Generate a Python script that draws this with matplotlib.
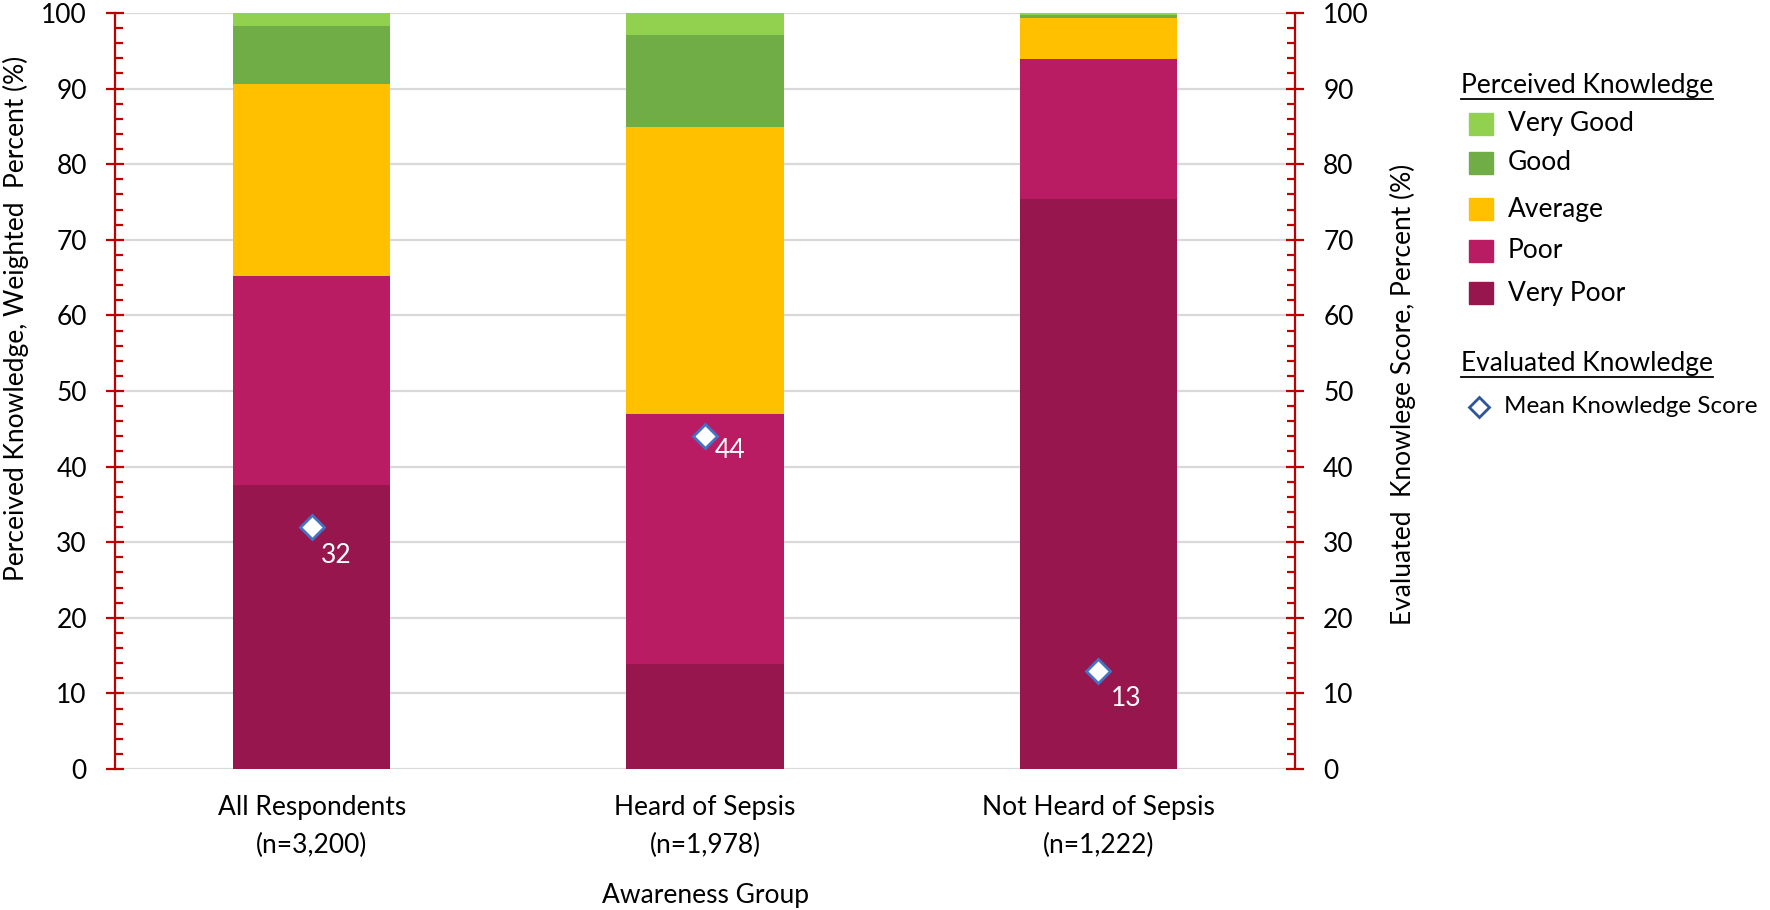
import matplotlib
matplotlib.use("Agg")
import matplotlib.pyplot as plt
from matplotlib.patches import Rectangle
from matplotlib.lines import Line2D
from matplotlib.ticker import MultipleLocator
import numpy as np

plt.rcParams['font.family'] = ['Lato', 'DejaVu Sans']

# ---------------- data ----------------
categories = ["All Respondents\n(n=3,200)", "Heard of Sepsis\n(n=1,978)",
              "Not Heard of Sepsis\n(n=1,222)"]
levels = ["Very Poor", "Poor", "Average", "Good", "Very Good"]
very_poor = [37.6, 13.9, 75.4]
poor = [27.6, 33.1, 18.5]
average = [25.4, 37.9, 5.5]
good = [7.7, 12.2, 0.4]
very_good = [1.7, 2.9, 0.2]
mean_score = [32, 44, 13]
series_name = "Mean Knowledge Score"
yticks = [0, 10, 20, 30, 40, 50, 60, 70, 80, 90, 100]

colors = {"Very Poor": "#96164D", "Poor": "#BA1C63", "Average": "#FFC000",
          "Good": "#70AD47", "Very Good": "#92D050"}
RED = "#C00000"
FS = 19

W, H = 1770, 910
fig = plt.figure(figsize=(W / 100, H / 100), dpi=100)
L, R, T, B = 115, 1295, 13, 769
ax = fig.add_axes([L / W, 1 - B / H, (R - L) / W, (B - T) / H])

x = np.arange(len(categories))
stack = [very_poor, poor, average, good, very_good]
bottom = np.zeros(len(categories))
for name, vals in zip(levels, stack):
    ax.bar(x, vals, bottom=bottom, width=0.40, color=colors[name], zorder=2,
           edgecolor='none')
    bottom = bottom + np.array(vals)

ax.set_xlim(-0.5, len(categories) - 0.5)
ax.set_ylim(0, 100)
ax.set_yticks(yticks)
ax.yaxis.set_minor_locator(MultipleLocator(2))
ax.set_xticks(x)
ax.set_xticklabels(categories, fontsize=FS, linespacing=1.62)
ax.tick_params(axis='x', length=0, pad=19)
ax.grid(axis='y', color='#D9D9D9', lw=1.6, zorder=0)
ax.set_axisbelow(True)
for s in ['top', 'bottom']:
    ax.spines[s].set_visible(False)
ax.spines['right'].set_visible(False)
ax.spines['left'].set_color(RED)
ax.spines['left'].set_linewidth(1.6)
ax.tick_params(axis='y', which='major', direction='inout', length=12.5,
               width=1.6, color=RED, labelsize=FS, pad=14)
ax.tick_params(axis='y', which='minor', direction='in', length=6,
               width=1.6, color=RED)

ax.set_xlabel("Awareness Group", fontsize=FS)
ax.xaxis.set_label_coords(0.5, (B - 895) / (B - T))
ax.xaxis.label.set_va('center')
ax.set_ylabel("Perceived Knowledge, Weighted  Percent (%)", fontsize=FS)
ax.yaxis.set_label_coords((16 - L) / (R - L), (B - 318) / (B - T))
ax.yaxis.label.set_va('center')

ax2 = ax.twinx()
ax2.set_ylim(0, 100)
ax2.set_yticks(yticks)
ax2.yaxis.set_minor_locator(MultipleLocator(2))
for s in ['top', 'bottom', 'left']:
    ax2.spines[s].set_visible(False)
ax2.spines['right'].set_color(RED)
ax2.spines['right'].set_linewidth(1.6)
ax2.tick_params(axis='y', which='major', direction='inout', length=12.5,
                width=1.6, color=RED, labelsize=FS, pad=14)
ax2.tick_params(axis='y', which='minor', direction='in', length=6,
                width=1.6, color=RED)
ax2.set_ylabel("Evaluated  Knowlege Score, Percent (%)", fontsize=FS)
ax2.yaxis.set_label_coords((1403 - L) / (R - L), (B - 394) / (B - T))
ax2.yaxis.label.set_va('center')

ax2.plot(x, mean_score, linestyle='none', marker='D', ms=12,
         mfc='white', mec='#4472C4', mew=2, zorder=5)
offsets = [(25, -28), (25, -14), (28, -28)]
for xi, v, off in zip(x, mean_score, offsets):
    ax2.annotate(f"{v:g}", (xi, v), xytext=off, textcoords='offset pixels',
                 color='white', fontsize=FS, ha='center', va='center', zorder=6)

# ---------------- legend (manual) ----------------
def fx(px):
    return px / W

def fy(py):
    return 1 - py / H

renderer = fig.canvas.get_renderer()

def underlined_title(txt, px, py, uy):
    t = fig.text(fx(px), fy(py), txt, fontsize=FS, ha='left', va='center')
    bb = t.get_window_extent(renderer=renderer)
    fig.add_artist(Line2D([bb.x0 / W, bb.x1 / W], [fy(uy), fy(uy)],
                          transform=fig.transFigure, color='black', lw=1.3))

underlined_title("Perceived Knowledge", 1461, 85, 99)
leg_order = ["Very Good", "Good", "Average", "Poor", "Very Poor"]
leg_y = [124, 163, 209, 251, 293]
for name, py in zip(leg_order, leg_y):
    fig.add_artist(Rectangle((fx(1469), fy(py + 11)), 24 / W, 22 / H,
                             transform=fig.transFigure, color=colors[name]))
    fig.text(fx(1508), fy(py), name, fontsize=FS, ha='left', va='center')

underlined_title("Evaluated Knowledge", 1461, 363, 377)
fig.add_artist(Line2D([fx(1479)], [fy(407)], transform=fig.transFigure,
                      marker='D', ms=10, mfc='white', mec='#2F5597', mew=2,
                      linestyle='none'))
fig.text(fx(1504), fy(407), series_name, fontsize=17.5, ha='left', va='center')

fig.savefig("out.png", dpi=100)
